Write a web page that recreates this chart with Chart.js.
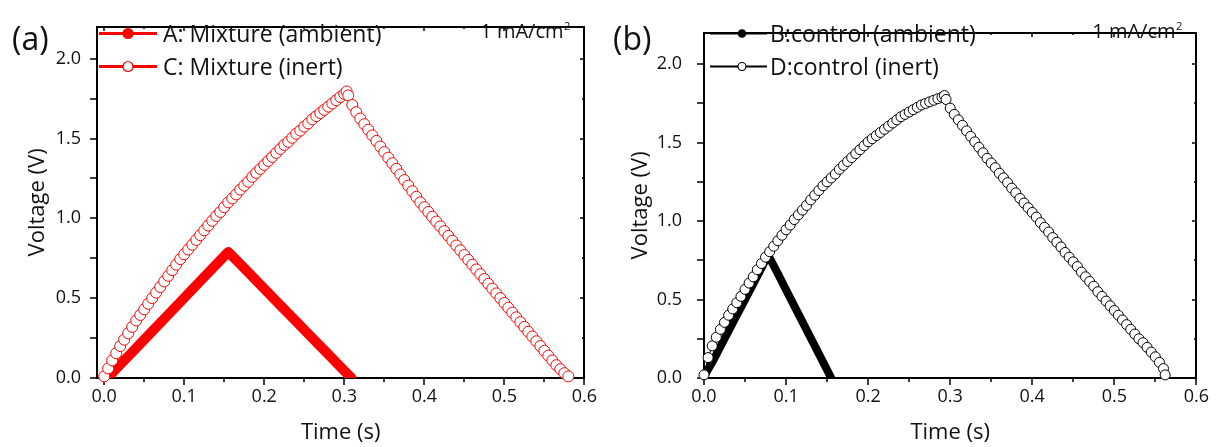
<!DOCTYPE html>
<html>
<head>
<meta charset="utf-8">
<script src="https://cdn.jsdelivr.net/npm/chart.js@4.4.0/dist/chart.umd.min.js"></script>
<style>
  body { margin: 0; background: #fff; }
  canvas { position: absolute; top: 0; }
</style>
</head>
<body>
<canvas id="panelA" width="605" height="447" style="left:0"></canvas>
<canvas id="panelB" width="612" height="447" style="left:605px"></canvas>
<script>
// ticks
const xTicks = [0, 0.1, 0.2, 0.3, 0.4, 0.5, 0.6];
const xMinor = [0.05, 0.15, 0.25, 0.35, 0.45, 0.55];
const yTicks = [0, 0.5, 1.0, 1.5, 2.0];
const yMinor = [0.25, 0.75, 1.25, 1.75];

// (a) A: Mixture (ambient)
const aTime = [0.004, 0.02, 0.04, 0.06, 0.08, 0.1, 0.12, 0.14, 0.155, 0.16, 0.18, 0.2, 0.22, 0.24, 0.26, 0.28, 0.3, 0.309];
const aVolt = [0, 0.084, 0.188, 0.293, 0.397, 0.502, 0.607, 0.711, 0.79, 0.764, 0.662, 0.559, 0.456, 0.354, 0.251, 0.149, 0.046, 0];

// (a) C: Mixture (inert)
const cTime = [0, 0.005, 0.01, 0.015, 0.02, 0.025, 0.03, 0.035, 0.04, 0.045, 0.05, 0.055, 0.06, 0.065, 0.07, 0.075, 0.08, 0.085, 0.09, 0.095,
  0.1, 0.105, 0.11, 0.115, 0.12, 0.125, 0.13, 0.135, 0.14, 0.145, 0.15, 0.155, 0.16, 0.165, 0.17, 0.175, 0.18, 0.185, 0.19, 0.195,
  0.2, 0.205, 0.21, 0.215, 0.22, 0.225, 0.23, 0.235, 0.24, 0.245, 0.25, 0.255, 0.26, 0.265, 0.27, 0.275, 0.28, 0.285, 0.29, 0.295,
  0.3, 0.303,
  0.305, 0.31, 0.315, 0.32, 0.325, 0.33, 0.335, 0.34, 0.345, 0.35, 0.355, 0.36, 0.365, 0.37, 0.375, 0.38, 0.385, 0.39, 0.395,
  0.4, 0.405, 0.41, 0.415, 0.42, 0.425, 0.43, 0.435, 0.44, 0.445, 0.45, 0.455, 0.46, 0.465, 0.47, 0.475, 0.48, 0.485, 0.49, 0.495,
  0.5, 0.505, 0.51, 0.515, 0.52, 0.525, 0.53, 0.535, 0.54, 0.545, 0.55, 0.555, 0.56, 0.565, 0.57, 0.575, 0.58];
const cVolt = [0.01, 0.06, 0.11, 0.155, 0.2, 0.24, 0.28, 0.32, 0.36, 0.395, 0.43, 0.465, 0.5, 0.535, 0.57, 0.605, 0.64, 0.675, 0.71, 0.745,
  0.775, 0.805, 0.835, 0.865, 0.895, 0.925, 0.955, 0.985, 1.015, 1.04, 1.07, 1.1, 1.125, 1.15, 1.18, 1.205, 1.23, 1.26, 1.285, 1.31,
  1.335, 1.36, 1.385, 1.41, 1.435, 1.46, 1.48, 1.505, 1.53, 1.55, 1.575, 1.595, 1.62, 1.64, 1.66, 1.68, 1.7, 1.72, 1.74, 1.76,
  1.78, 1.795,
  1.77, 1.71, 1.665, 1.625, 1.59, 1.555, 1.52, 1.485, 1.45, 1.415, 1.38, 1.345, 1.31, 1.275, 1.24, 1.205, 1.17, 1.135, 1.1,
  1.07, 1.04, 1.01, 0.98, 0.95, 0.92, 0.89, 0.86, 0.83, 0.8, 0.77, 0.74, 0.71, 0.68, 0.65, 0.62, 0.59, 0.56, 0.53, 0.5,
  0.47, 0.44, 0.41, 0.38, 0.35, 0.32, 0.29, 0.26, 0.23, 0.2, 0.17, 0.14, 0.11, 0.08, 0.055, 0.03, 0.01];

// (b) B:control (ambient)
const bTime = [0, 0.01, 0.02, 0.03, 0.04, 0.05, 0.06, 0.07, 0.078, 0.09, 0.1, 0.11, 0.12, 0.13, 0.14, 0.15, 0.155];
const bVolt = [0.01, 0.1, 0.2, 0.3, 0.4, 0.5, 0.6, 0.7, 0.785, 0.665, 0.562, 0.46, 0.358, 0.256, 0.154, 0.052, 0];

// (b) D:control (inert)
const dTime = [0, 0.005, 0.01, 0.015, 0.02, 0.025, 0.03, 0.035, 0.04, 0.045, 0.05, 0.055, 0.06, 0.065, 0.07, 0.075, 0.08, 0.085, 0.09, 0.095,
  0.1, 0.105, 0.11, 0.115, 0.12, 0.125, 0.13, 0.135, 0.14, 0.145, 0.15, 0.155, 0.16, 0.165, 0.17, 0.175, 0.18, 0.185, 0.19, 0.195,
  0.2, 0.205, 0.21, 0.215, 0.22, 0.225, 0.23, 0.235, 0.24, 0.245, 0.25, 0.255, 0.26, 0.265, 0.27, 0.275, 0.28, 0.285, 0.29, 0.293,
  0.295, 0.3, 0.305, 0.31, 0.315, 0.32, 0.325, 0.33, 0.335, 0.34, 0.345, 0.35, 0.355, 0.36, 0.365, 0.37, 0.375, 0.38, 0.385, 0.39,
  0.395, 0.4, 0.405, 0.41, 0.415, 0.42, 0.425, 0.43, 0.435, 0.44, 0.445, 0.45, 0.455, 0.46, 0.465, 0.47, 0.475, 0.48, 0.485, 0.49,
  0.495, 0.5, 0.505, 0.51, 0.515, 0.52, 0.525, 0.53, 0.535, 0.54, 0.545, 0.55, 0.555, 0.56, 0.562];
const dVolt = [0.02, 0.13, 0.205, 0.26, 0.31, 0.355, 0.4, 0.44, 0.48, 0.52, 0.565, 0.605, 0.645, 0.69, 0.73, 0.77, 0.805, 0.84, 0.875, 0.91,
  0.945, 0.975, 1.01, 1.04, 1.07, 1.1, 1.135, 1.165, 1.195, 1.225, 1.25, 1.275, 1.3, 1.33, 1.355, 1.38, 1.405, 1.43, 1.455, 1.48,
  1.505, 1.525, 1.545, 1.565, 1.585, 1.605, 1.625, 1.645, 1.665, 1.68, 1.695, 1.71, 1.725, 1.74, 1.75, 1.76, 1.77, 1.78, 1.79, 1.8,
  1.775, 1.72, 1.68, 1.645, 1.61, 1.575, 1.54, 1.505, 1.47, 1.435, 1.4, 1.37, 1.34, 1.305, 1.275, 1.245, 1.21, 1.18, 1.145, 1.115,
  1.085, 1.055, 1.025, 0.99, 0.96, 0.93, 0.895, 0.865, 0.835, 0.8, 0.77, 0.74, 0.71, 0.675, 0.645, 0.615, 0.585, 0.55, 0.52, 0.49,
  0.46, 0.43, 0.4, 0.37, 0.34, 0.31, 0.28, 0.25, 0.225, 0.195, 0.165, 0.135, 0.1, 0.06, 0.02];

const pts = (ts, vs) => ts.map((t, i) => ({ x: t, y: vs[i] }));
const ink = '#111111';
Chart.defaults.font.family = "'Open Sans', sans-serif";
Chart.defaults.color = ink;

// box round the plot with ticks: out on bottom/left, in on top/right
function drawFrame(chart) {
  const ctx = chart.ctx, a = chart.chartArea;
  const sx = chart.scales.x, sy = chart.scales.y;
  const L = Math.round(a.left), R = Math.round(a.right), T = Math.round(a.top), B = Math.round(a.bottom);
  ctx.save();
  ctx.strokeStyle = '#000000';
  ctx.lineWidth = 2;
  ctx.strokeRect(L, T, R - L, B - T);
  ctx.lineWidth = 1.5;
  ctx.beginPath();
  xTicks.concat(xMinor).forEach((v, i) => {
    const major = i < xTicks.length;
    const p = Math.round(sx.getPixelForValue(v));
    ctx.moveTo(p, B); ctx.lineTo(p, B + (major ? 7 : 4));
    ctx.moveTo(p, T); ctx.lineTo(p, T + (major ? 4 : 2));
  });
  yTicks.concat(yMinor).forEach((v, i) => {
    const major = i < yTicks.length;
    const p = Math.round(sy.getPixelForValue(v));
    ctx.moveTo(L, p); ctx.lineTo(L - 7, p);
    ctx.moveTo(R, p); ctx.lineTo(R - (major ? 4 : 2), p);
  });
  ctx.stroke();
  ctx.restore();
}

const frame = {
  id: 'frame',
  beforeDatasetsDraw(chart) {
    drawFrame(chart);
  },
  afterDraw(chart, args, o) {
    const { ctx, chartArea: a } = chart;
    ctx.save();
    // legend
    chart.data.datasets.forEach(ds => {
      const y = ds.legendY;
      const x0 = a.left + o.lx0, x1 = a.left + o.lx1, mx = a.left + o.mx;
      ctx.strokeStyle = ds.borderColor;
      ctx.lineWidth = o.lw;
      ctx.beginPath(); ctx.moveTo(x0, y); ctx.lineTo(x1, y); ctx.stroke();
      ctx.beginPath(); ctx.arc(mx, y, ds.legendR, 0, Math.PI * 2);
      ctx.fillStyle = ds.legendFill; ctx.fill();
      ctx.lineWidth = 1.2; ctx.stroke();
      ctx.fillStyle = ink;
      ctx.font = "23px 'Open Sans'";
      ctx.textAlign = 'left';
      ctx.textBaseline = 'alphabetic';
      ctx.fillText(ds.label, a.left + o.tx, y + 8);
    });
    // panel label
    ctx.font = "32px 'Open Sans'";
    ctx.fillText(o.tag, o.tagX, 50);
    // current density
    const right = a.right - 14;
    ctx.font = "11px 'Open Sans'";
    const w2 = ctx.measureText('2').width;
    ctx.fillText('2', right - w2, 30);
    ctx.font = "20px 'Open Sans'";
    ctx.textAlign = 'right';
    ctx.fillText('1 mA/cm', right - w2 - 0.5, 38);
    ctx.restore();
  }
};

function panel(id, p) {
  new Chart(document.getElementById(id), {
    type: 'scatter',
    data: { datasets: p.datasets },
    options: {
      responsive: false,
      animation: false,
      layout: { padding: { top: 15, right: p.padRight, bottom: 0, left: 0 } },
      scales: {
        x: {
          type: 'linear', min: p.xMin, max: 0.6,
          grid: { display: false, drawTicks: false },
          border: { display: false },
          afterFit: s => { s.height = 69; },
          afterBuildTicks: s => { s.ticks = xTicks.map(v => ({ value: v })); },
          ticks: { padding: 8, font: { size: 18 }, color: ink, maxRotation: 0, autoSkip: false, callback: v => v.toFixed(1) },
          title: { display: true, text: 'Time (s)', font: { size: 22 }, color: ink, padding: { top: 0, bottom: 1 } }
        },
        y: {
          type: 'linear', min: 0, max: 2.2,
          grid: { display: false, drawTicks: false },
          border: { display: false },
          afterFit: s => { s.width = p.axisW; },
          afterBuildTicks: s => { s.ticks = yTicks.map(v => ({ value: v })); },
          ticks: { padding: p.yPad, font: { size: 18 }, color: ink, callback: v => v.toFixed(1) },
          title: { display: true, text: 'Voltage (V)', font: { size: 22 }, color: ink, padding: { top: p.yTitlePad, bottom: 0 } }
        }
      },
      plugins: {
        legend: { display: false },
        tooltip: { enabled: false },
        frame: p.frame
      }
    },
    plugins: [frame]
  });
}

panel('panelA', {
  xMin: -0.009, axisW: 97, padRight: 14, yPad: 16, yTitlePad: 25,
  frame: { lx0: 2, lx1: 60, mx: 31, tx: 66, lw: 3, tag: '(a)', tagX: 12 },
  datasets: [
    { label: 'A: Mixture (ambient)', data: pts(aTime, aVolt), showLine: true, borderColor: '#ff0000',
      borderWidth: 10, borderJoinStyle: 'round', borderCapStyle: 'round', pointRadius: 0, clip: 0, order: 1,
      legendY: 33.5, legendR: 5, legendFill: '#ff0000' },
    { label: 'C: Mixture (inert)', data: pts(cTime, cVolt), showLine: true, borderColor: '#ff0000', borderWidth: 1,
      pointRadius: 5.5, pointBorderWidth: 1, pointBackgroundColor: '#ffffff', pointBorderColor: '#ff0000', clip: 7, order: 0,
      legendY: 66.5, legendR: 5, legendFill: '#ffffff' }
  ]
});

panel('panelB', {
  xMin: 0, axisW: 99, padRight: 18, yPad: 22, yTitlePad: 23,
  frame: { lx0: 6, lx1: 63, mx: 38, tx: 66, lw: 2.2, tag: '(b)', tagX: 8 },
  datasets: [
    { label: 'B:control (ambient)', data: pts(bTime, bVolt), showLine: true, borderColor: '#000000',
      borderWidth: 8, borderJoinStyle: 'round', borderCapStyle: 'round', pointRadius: 0, clip: 0, order: 1,
      legendY: 33.5, legendR: 3.7, legendFill: '#000000' },
    { label: 'D:control (inert)', data: pts(dTime, dVolt), showLine: true, borderColor: '#000000', borderWidth: 1,
      pointRadius: 5, pointBorderWidth: 1, pointBackgroundColor: '#ffffff', pointBorderColor: '#000000', clip: 7, order: 0,
      legendY: 66.5, legendR: 4, legendFill: '#ffffff' }
  ]
});
</script>
</body>
</html>
